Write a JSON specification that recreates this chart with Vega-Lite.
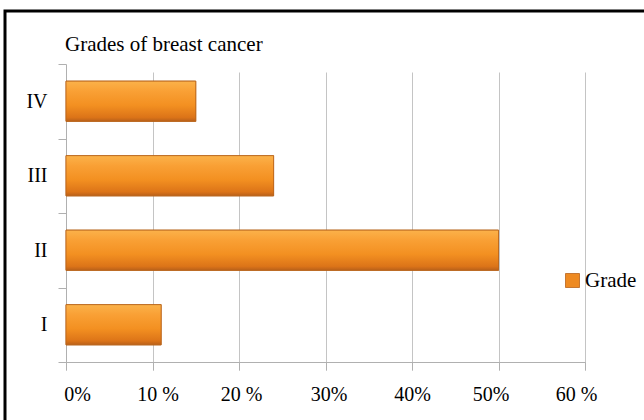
{
  "$schema": "https://vega.github.io/schema/vega-lite/v6.json",
  "autosize": {"type": "none"},
  "padding": {"left": 5, "top": 11, "right": -3, "bottom": -3},
  "width": 642,
  "height": 412,
  "background": "white",
  "title": {
    "text": "Grades of breast cancer",
    "anchor": "start",
    "frame": "group",
    "font": "Liberation Serif, Times New Roman, serif",
    "fontSize": 21,
    "fontWeight": "normal",
    "color": "black",
    "baseline": "alphabetic",
    "offset": -39,
    "dx": 60,
    "dy": 32
  },
  "data": {
    "values": [
      {"grade": "IV", "percent": 15, "series": "Grade"},
      {"grade": "III", "percent": 24, "series": "Grade"},
      {"grade": "II", "percent": 50, "series": "Grade"},
      {"grade": "I", "percent": 11, "series": "Grade"}
    ]
  },
  "encoding": {
    "y": {
      "field": "grade",
      "type": "nominal",
      "sort": ["IV", "III", "II", "I"],
      "scale": {"range": [53, 351], "paddingInner": 0, "paddingOuter": 0},
      "axis": {
        "title": null,
        "offset": -61,
        "labelFont": "Liberation Serif, Times New Roman, serif",
        "labelFontSize": 20,
        "labelColor": "black",
        "labelPadding": 11,
        "tickSize": 8,
        "tickColor": "#b0b0b0",
        "tickBand": "extent",
        "domainColor": "#b0b0b0",
        "grid": false
      }
    },
    "x": {
      "field": "percent",
      "type": "quantitative",
      "scale": {"domain": [0, 60], "nice": false, "range": [61, 580]},
      "axis": {
        "title": null,
        "offset": -61,
        "values": [0, 10, 20, 30, 40, 50, 60],
        "labelExpr": "datum.value == 10 || datum.value == 20 || datum.value == 60 ? datum.value + ' %' : datum.value + '%'",
        "labelFont": "Liberation Serif, Times New Roman, serif",
        "labelFontSize": 20,
        "labelColor": "black",
        "labelPadding": 14,
        "labelFlush": false,
        "labelOverlap": false,
        "labelOffset": {
          "condition": [
            {"test": "datum.value == 0", "value": 11},
            {"test": "datum.value == 10", "value": 5},
            {"test": "datum.value == 20", "value": 2},
            {"test": "datum.value == 30", "value": 3},
            {"test": "datum.value == 50", "value": -8},
            {"test": "datum.value == 60", "value": -9}
          ],
          "value": 0
        },
        "tickSize": 8,
        "tickColor": "#b0b0b0",
        "domainColor": "#b0b0b0",
        "grid": true,
        "gridColor": "#c4c4c4",
        "gridWidth": 1
      }
    }
  },
  "layer": [
    {
      "mark": {"type": "bar", "stroke": "#b8631a", "strokeWidth": 0.8, "height": {"band": 0.54}},
      "encoding": {
        "color": {
          "field": "series",
          "type": "nominal",
          "scale": {"domain": ["Grade"], "range": ["#ee8a22"]},
          "legend": {
            "title": null,
            "orient": "none",
            "legendX": 557,
            "legendY": 259,
            "symbolType": "square",
            "symbolSize": 196,
            "symbolStrokeColor": "#b8631a",
            "symbolStrokeWidth": 0.8,
            "labelFont": "Liberation Serif, Times New Roman, serif",
            "labelFontSize": 21,
            "labelColor": "black",
            "labelOffset": 2
          }
        }
      }
    },
    {
      "mark": {
        "type": "bar",
        "stroke": "#b8631a",
        "strokeWidth": 0.8,
        "height": {"band": 0.54},
        "color": {
          "gradient": "linear",
          "x1": 0, "y1": 0, "x2": 0, "y2": 1,
          "stops": [
            {"offset": 0, "color": "#fbb24a"},
            {"offset": 0.25, "color": "#f9a035"},
            {"offset": 0.6, "color": "#f39021"},
            {"offset": 0.9, "color": "#dc7418"},
            {"offset": 1, "color": "#b9601a"}
          ]
        }
      }
    }
  ],
  "config": {
    "view": {"stroke": "black", "strokeWidth": 3}
  }
}
